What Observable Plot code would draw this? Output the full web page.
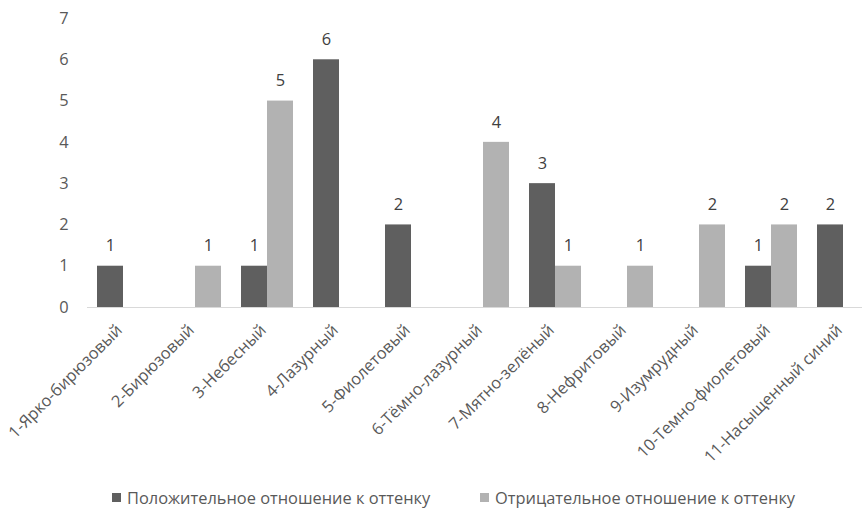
<!DOCTYPE html>
<html><head><meta charset="utf-8">
<script src="https://cdn.jsdelivr.net/npm/d3@7"></script>
<script src="https://cdn.jsdelivr.net/npm/@observablehq/plot@0.6"></script>
<style>
html,body{margin:0;padding:0;background:#fff;overflow:hidden;font-family:"Open Sans",sans-serif;}
#legend{position:relative;height:28px;font-size:16.4px;color:#595959}
#legend .item{position:absolute;top:0;height:28px;display:flex;align-items:center;white-space:nowrap}
#legend .sw{display:inline-block;width:9px;height:9px;margin-right:6px}
</style></head><body><div id="chart"></div><div id="legend"></div>
<script>
const categories = ["1-Ярко-бирюзовый","2-Бирюзовый","3-Небесный","4-Лазурный","5-Фиолетовый","6-Тёмно-лазурный","7-Мятно-зелёный","8-Нефритовый","9-Изумрудный","10-Темно-фиолетовый","11-Насыщенный синий"];
const positive = [1,0,1,6,2,0,3,0,0,1,2];
const negative = [0,1,5,0,0,4,1,1,2,2,0];
const seriesNames = ["Положительное отношение к оттенку","Отрицательное отношение к оттенку"];
const colors = ["#5f5f5f","#b2b2b2"];
const yTicks = [0,1,2,3,4,5,6,7];

const data = categories.flatMap((c,i)=>[
  {cat:c, series:seriesNames[0], value:positive[i]},
  {cat:c, series:seriesNames[1], value:negative[i]}
]);
const shown = data.filter(d=>d.value>0);

const chart = Plot.plot({
  width:862, height:483,
  marginLeft:84, marginRight:-19, marginTop:18, marginBottom:176,
  style:{fontFamily:"'Open Sans', sans-serif", fontSize:"16.4px", color:"#595959", background:"white", overflow:"hidden"},
  fx:{domain:categories, padding:0, label:null, axis:null},
  x:{domain:seriesNames, axis:null, paddingInner:0, paddingOuter:0.368},
  y:{domain:[0,7], ticks:yTicks, tickFormat:d=>String(d), tickSize:0, tickPadding:19, label:null},
  color:{domain:seriesNames, range:colors},
  marks:[
    Plot.axisFx({anchor:"bottom", tickRotate:-45, tickSize:0, tickPadding:20, dx:-4, label:null, fill:"#595959"}),
    Plot.barY(shown, {fx:"cat", x:"series", y:"value", fill:"series"}),
    Plot.ruleY([0], {stroke:"#d9d9d9", strokeWidth:1.2}),
    Plot.text(shown, {fx:"cat", x:"series", y:"value", text:"value", dy:-20, fill:"#404040", fontSize:16.4})
  ]
});
document.getElementById("chart").appendChild(chart);

const legend = document.getElementById("legend");
const legendLeft = [112, 480];
seriesNames.forEach((s,i)=>{
  const it = document.createElement("div"); it.className="item"; it.style.left = legendLeft[i]+"px";
  const sw = document.createElement("span"); sw.className="sw"; sw.style.background=colors[i];
  const tx = document.createElement("span"); tx.textContent=s;
  it.appendChild(sw); it.appendChild(tx); legend.appendChild(it);
});
</script></body></html>
